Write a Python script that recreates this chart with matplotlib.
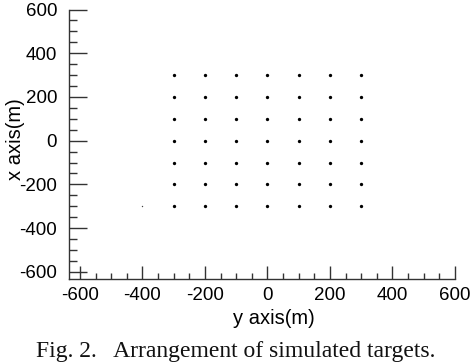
import matplotlib
matplotlib.use("Agg")
import matplotlib.pyplot as plt
from matplotlib.ticker import MultipleLocator

# Data: target grid (horizontal = y axis, vertical = x axis), in metres
grid_y = [-300, -200, -100, 0, 100, 200, 300]
grid_x = [300, 200, 100, 0, -100, -200, -300]
extra_y = [-400]
extra_x = [-300]
ticks = [-600, -400, -200, 0, 200, 400, 600]

fig = plt.figure(figsize=(4.74, 3.63), dpi=100)
ax = fig.add_axes([69/474, 1 - 279/363, (455-69)/474, (279-9.5)/363])

for xv in grid_x:
    ax.plot(grid_y, [xv]*len(grid_y), linestyle='none', marker='o',
            markersize=2.4, color='black', markeredgewidth=0)
ax.plot(extra_y, extra_x, linestyle='none', marker='o', markersize=1.0,
        color='#444444', markeredgewidth=0)

ax.set_xlim(-635, 600)
ax.set_ylim(-633, 600)
ax.set_xticks(ticks)
ax.set_yticks(ticks)
ax.set_xticklabels([str(t) for t in ticks])
ax.set_yticklabels([str(t) for t in ticks])
ax.xaxis.set_minor_locator(MultipleLocator(50))
ax.yaxis.set_minor_locator(MultipleLocator(50))

for s in ['top', 'right']:
    ax.spines[s].set_visible(False)
for s in ['left', 'bottom']:
    ax.spines[s].set_color('#333333')
    ax.spines[s].set_linewidth(1.0)

fam = ['Liberation Sans', 'DejaVu Sans']
ax.tick_params(axis='y', which='major', direction='in', length=13, width=1.0,
               color='#333333', pad=8.5, labelsize=13.5)
ax.tick_params(axis='y', which='minor', direction='in', length=6, width=1.0,
               color='#333333')
ax.tick_params(axis='x', which='major', direction='in', length=9.5, width=1.0,
               color='#333333', pad=6.0, labelsize=13.5)
ax.tick_params(axis='x', which='minor', direction='in', length=4.5, width=1.0,
               color='#333333')
for lab in ax.get_xticklabels() + ax.get_yticklabels():
    lab.set_family(fam)

ax.set_xlabel('y axis(m)', fontsize=14.5, family=fam)
ax.set_ylabel('x axis(m)', fontsize=14.5, family=fam)
ax.xaxis.set_label_coords((274-69)/386, (279-309)/269.5)
ax.yaxis.set_label_coords((25-69)/386, (279-139)/269.5)

fig.text(36/474, (363-357)/363, 'Fig. 2.   Arrangement of simulated targets.',
         fontsize=17, family=['Liberation Serif', 'DejaVu Serif'],
         ha='left', va='baseline', color='#111111')

fig.savefig('out.png', dpi=100)
